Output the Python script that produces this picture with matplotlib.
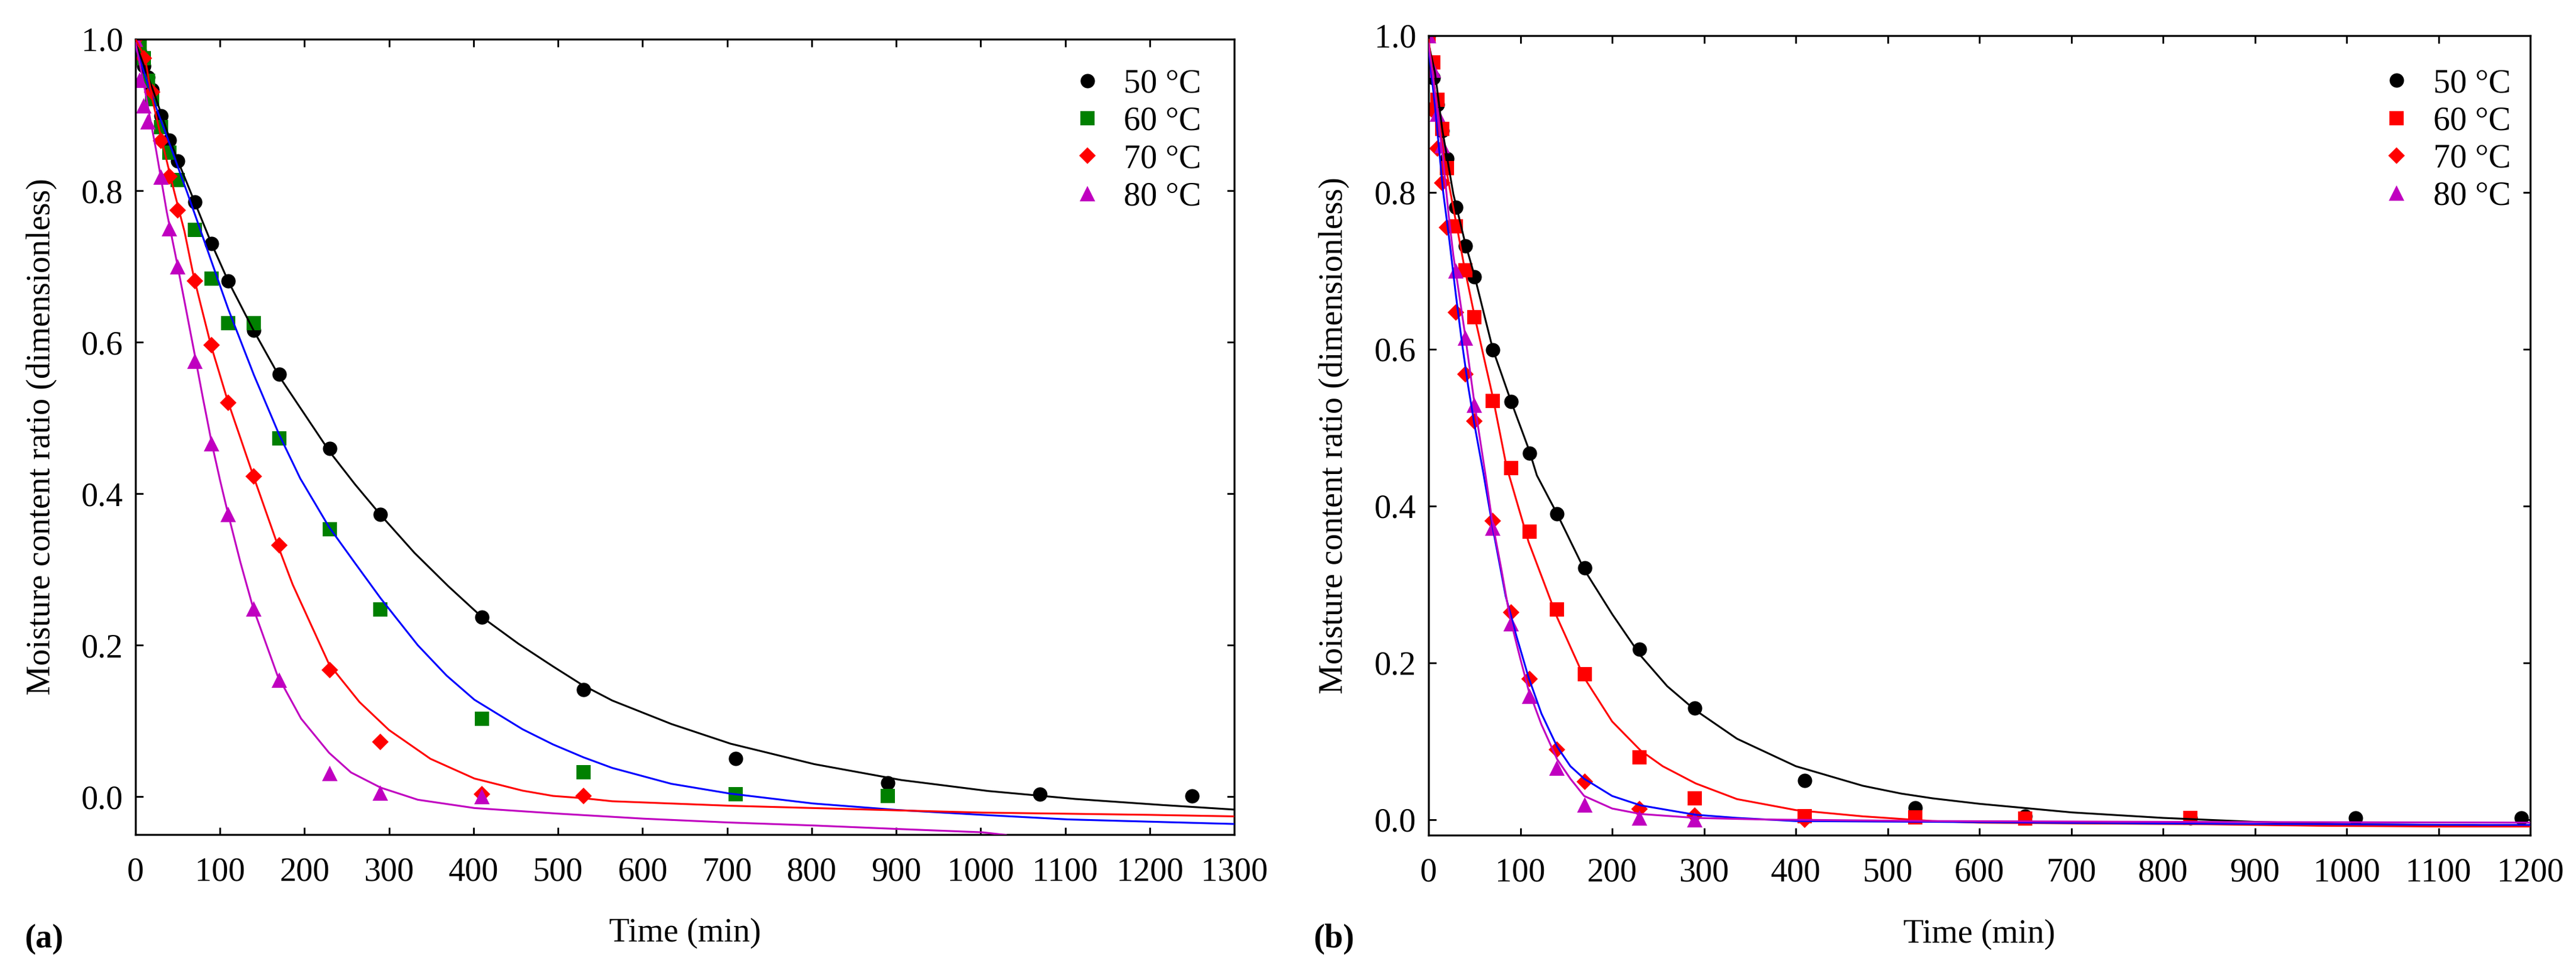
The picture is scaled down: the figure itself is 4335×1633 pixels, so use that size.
import numpy as np
import matplotlib
matplotlib.use('Agg')
import matplotlib.pyplot as plt

plt.rcParams['font.family'] = ['Liberation Serif', 'DejaVu Serif']
plt.rcParams['font.size'] = 13.5

labels = ['50 °C', '60 °C', '70 °C', '80 °C']

# ---- panel (a): measured points ----
t_a50 = [0, 5, 10, 15, 20, 30, 40, 50, 70, 90, 110, 140, 170, 230, 290, 410, 530, 710, 890, 1070, 1250]
mr_a50 = [1.0, 0.984, 0.965, 0.95, 0.933, 0.899, 0.867, 0.839, 0.785, 0.730, 0.681, 0.616, 0.558, 0.460,
          0.373, 0.237, 0.141, 0.050, 0.018, 0.003, 0.001]
t_a60 = [0, 5, 10, 15, 20, 30, 40, 50, 70, 90, 110, 140, 170, 230, 290, 410, 530, 710, 890]
mr_a60 = [1.0, 0.99, 0.975, 0.945, 0.921, 0.884, 0.850, 0.814, 0.748, 0.684, 0.625, 0.625, 0.473, 0.353,
          0.247, 0.103, 0.032, 0.003, 0.001]
t_a70 = [0, 10, 20, 30, 40, 50, 70, 90, 110, 140, 170, 230, 290, 410, 530]
mr_a70 = [1.0, 0.975, 0.93, 0.866, 0.819, 0.774, 0.681, 0.596, 0.520, 0.423, 0.332, 0.167, 0.072, 0.003, 0.001]
t_a80 = [0, 5, 10, 15, 30, 40, 50, 70, 90, 110, 140, 170, 230, 290, 410]
mr_a80 = [1.0, 0.946, 0.912, 0.891, 0.818, 0.75, 0.70, 0.575, 0.466, 0.373, 0.248, 0.154, 0.031, 0.005, 0.0]

# ---- panel (a): fitted curves ----
ft_a50 = [0, 10, 20, 30, 40, 50, 70, 90, 110, 140, 170, 200, 230, 260, 290, 330, 370, 410, 453, 494, 528,
          564, 634, 704, 803, 906, 1009, 1112, 1215, 1300]
fv_a50 = [0.995, 0.965, 0.935, 0.903, 0.870, 0.840, 0.785, 0.730, 0.680, 0.615, 0.555, 0.505, 0.455, 0.412,
          0.372, 0.322, 0.278, 0.237, 0.202, 0.172, 0.148, 0.127, 0.096, 0.070, 0.043, 0.022, 0.0075,
          -0.003, -0.011, -0.017]
ft_a60 = [0, 15, 27, 39, 50, 62, 74, 86, 110, 140, 170, 195, 229, 260, 290, 334, 368, 401, 458, 494, 530,
          564, 634, 704, 802, 901, 1002, 1103, 1201, 1300]
fv_a60 = [0.99, 0.94, 0.902, 0.866, 0.832, 0.795, 0.757, 0.719, 0.643, 0.557, 0.478, 0.42, 0.356, 0.308,
          0.262, 0.200, 0.160, 0.128, 0.089, 0.069, 0.052, 0.038, 0.017, 0.004, -0.009, -0.0175, -0.024,
          -0.030, -0.033, -0.036]
ft_a70 = [0, 11, 20, 34, 46, 58, 69, 89, 109, 139, 168, 186, 229, 265, 300, 349, 401, 458, 494, 530, 564,
          634, 704, 802, 901, 1002, 1103, 1201, 1300]
fv_a70 = [1.0, 0.977, 0.92, 0.853, 0.798, 0.746, 0.686, 0.597, 0.523, 0.425, 0.333, 0.280, 0.175, 0.125,
          0.088, 0.050, 0.024, 0.008, 0.001, -0.002, -0.006, -0.009, -0.012, -0.015, -0.018, -0.021,
          -0.0225, -0.024, -0.026]
ft_a80 = [0, 3, 11, 16, 24, 31, 37, 44, 50, 69, 80, 90, 100, 109, 124, 139, 168, 196, 229, 255, 290, 334,
          401, 502, 601, 701, 802, 901, 1002, 1030]
fv_a80 = [0.995, 0.979, 0.934, 0.903, 0.856, 0.811, 0.772, 0.733, 0.700, 0.59, 0.525, 0.468, 0.418, 0.376,
          0.31, 0.25, 0.16, 0.103, 0.058, 0.032, 0.012, -0.004, -0.015, -0.0225, -0.029, -0.034, -0.038,
          -0.0426, -0.047, -0.0505]

# ---- panel (b): measured points ----
t_b50 = [0, 5, 10, 15, 20, 30, 40, 50, 70, 90, 110, 140, 170, 230, 290, 410, 530, 650, 830, 1010, 1190]
mr_b50 = [1.0, 0.946, 0.912, 0.879, 0.843, 0.781, 0.732, 0.692, 0.599, 0.533, 0.467, 0.390, 0.321, 0.2175,
          0.142, 0.050, 0.015, 0.004, 0.002, 0.002, 0.002]
t_b60 = [0, 5, 10, 15, 20, 30, 40, 50, 70, 90, 110, 140, 170, 230, 290, 410, 530, 650, 830]
mr_b60 = [1.0, 0.966, 0.918, 0.881, 0.831, 0.757, 0.701, 0.641, 0.534, 0.448, 0.367, 0.268, 0.185, 0.079,
          0.027, 0.004, 0.003, 0.001, 0.002]
t_b70 = [3, 10, 15, 20, 30, 40, 50, 70, 90, 110, 140, 170, 230, 290, 410]
mr_b70 = [0.906, 0.856, 0.812, 0.755, 0.647, 0.568, 0.508, 0.381, 0.264, 0.179, 0.089, 0.048, 0.013, 0.005, 0.0]
t_b80 = [0, 5, 10, 15, 30, 40, 50, 70, 90, 110, 140, 170, 230, 290]
mr_b80 = [1.0, 0.956, 0.90, 0.86, 0.70, 0.614, 0.529, 0.372, 0.250, 0.157, 0.066, 0.019, 0.002, 0.0]

# ---- panel (b): fitted curves ----
ft_b50 = [0, 7, 15, 27, 40, 50, 70, 90, 109, 118, 140, 170, 200, 231, 260, 290, 336, 400, 473, 515, 549,
          600, 701, 800, 900, 1000, 1100, 1200]
fv_b50 = [0.99, 0.953, 0.88, 0.798, 0.735, 0.694, 0.600, 0.533, 0.473, 0.439, 0.39, 0.318, 0.262, 0.209,
          0.17, 0.14, 0.103, 0.068, 0.043, 0.033, 0.027, 0.020, 0.009, 0.002, -0.003, -0.006, -0.007, -0.008]
ft_b60 = [0, 9, 18, 39, 50, 70, 85, 109, 140, 170, 200, 231, 255, 291, 336, 400, 473, 549, 600, 709, 842,
          969, 1107, 1200]
fv_b60 = [0.995, 0.91, 0.837, 0.705, 0.643, 0.539, 0.45, 0.354, 0.258, 0.18, 0.125, 0.088, 0.068, 0.046,
          0.026, 0.012, 0.004, -0.002, -0.004, -0.005, -0.006, -0.008, -0.009, -0.009]
ft_b70 = [0, 7, 16, 23, 30, 36, 43, 50, 60, 70, 84, 95.5, 109, 123, 140, 154.5, 169.5, 200, 231, 291, 336,
          400, 549, 786, 1147, 1200]
fv_b70 = [0.985, 0.91, 0.80, 0.736, 0.667, 0.612, 0.554, 0.504, 0.44, 0.372, 0.285, 0.235, 0.181, 0.135,
          0.093, 0.068, 0.052, 0.030, 0.018, 0.006, 0.002, -0.002, -0.003, -0.005, -0.007, -0.007]
ft_b80 = [0, 9, 16, 22, 27, 39, 50, 62, 69, 79.5, 88.6, 100, 109, 123, 140, 154.5, 169.5, 200, 231, 291,
          364, 550, 800, 1200]
fv_b80 = [0.99, 0.91, 0.84, 0.77, 0.72, 0.625, 0.531, 0.44, 0.383, 0.318, 0.258, 0.205, 0.165, 0.121,
          0.077, 0.052, 0.030, 0.014, 0.007, 0.002, 0.0, -0.002, -0.003, -0.004]

W, H = 4335, 1633
fig = plt.figure(figsize=(W / 300, H / 300), dpi=300)


def px_axes(x0, x1, y0, y1):
    return fig.add_axes([x0 / W, 1 - y1 / H, (x1 - x0) / W, (y1 - y0) / H])


ax_a = px_axes(228, 2077, 66, 1405)
ax_b = px_axes(2404, 4258, 60, 1406)

mk = dict(ls='none', markeredgewidth=0)
lw = 0.75


def panel(ax, pts, fits, pt_colors, line_colors, xmax, ymin, leg_x, leg_y):
    markers = ['o', 's', 'D', '^']
    sizes = [5.8, 5.6, 4.6, 6.2]
    for (t, v), m, s, c, lab in zip(pts, markers, sizes, pt_colors, labels):
        ax.plot(t, v, marker=m, markersize=s, color=c, label=lab, zorder=2, **mk)
    for (t, v), c in zip(fits, line_colors):
        ax.plot(t, v, color=c, lw=lw, zorder=3)
    ax.set_xlim(0, xmax)
    ax.set_ylim(ymin, 1.0)
    ax.set_xticks(np.arange(0, xmax + 1, 100))
    ax.set_yticks(np.arange(0, 1.01, 0.2))
    ax.set_yticklabels(['%.1f' % v for v in np.arange(0, 1.01, 0.2)])
    ax.tick_params(direction='in', top=True, right=True, length=3, width=0.7)
    ax.tick_params(axis='x', pad=9)
    ax.tick_params(axis='y', pad=5)
    for sp in ax.spines.values():
        sp.set_linewidth(0.8)
    ax.set_xlabel('Time (min)', va='center')
    ax.xaxis.set_label_coords(0.5, -0.124)
    ax.set_ylabel('Moisture content ratio (dimensionless)', va='center')
    ax.legend(loc='upper left', bbox_to_anchor=(leg_x, leg_y), frameon=False, borderpad=0,
              handlelength=1.0, handletextpad=0.6, labelspacing=0.2, borderaxespad=0)


panel(ax_a,
      [(t_a50, mr_a50), (t_a60, mr_a60), (t_a70, mr_a70), (t_a80, mr_a80)],
      [(ft_a50, fv_a50), (ft_a60, fv_a60), (ft_a70, fv_a70), (ft_a80, fv_a80)],
      ['black', '#008000', '#ff0000', '#c000c0'],
      ['black', '#0000ff', '#ff0000', '#c000c0'],
      1300, -0.05, 0.851, 0.963)
ax_a.yaxis.set_label_coords((70 - 228) / 1849, 0.5)

panel(ax_b,
      [(t_b50, mr_b50), (t_b60, mr_b60), (t_b70, mr_b70), (t_b80, mr_b80)],
      [(ft_b50, fv_b50), (ft_b60, fv_b60), (ft_b70, fv_b70), (ft_b80, fv_b80)],
      ['black', '#ff0000', '#ff0000', '#c000c0'],
      ['black', '#ff0000', '#0000ff', '#c000c0'],
      1200, -0.02, 0.8635, 0.959)
ax_b.yaxis.set_label_coords((2245 - 2404) / 1854, 0.5)

fig.text(74 / W, 1 - 1581 / H, '(a)', fontweight='bold', ha='center', va='center')
fig.text(2245 / W, 1 - 1581 / H, '(b)', fontweight='bold', ha='center', va='center')

fig.savefig('out.png', dpi=300)
